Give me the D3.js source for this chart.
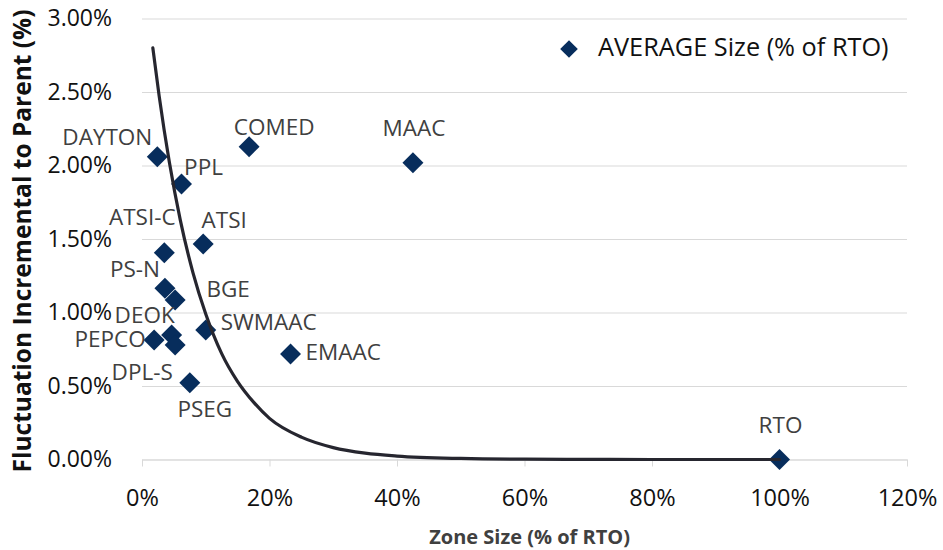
<!DOCTYPE html>
<html>
<head>
<meta charset="utf-8">
<script src="https://cdn.jsdelivr.net/npm/d3@7"></script>
<style>
  html, body { margin: 0; padding: 0; background: #ffffff; }
  svg { display: block; }
</style>
</head>
<body>
<svg id="chart" width="943" height="550"></svg>
<script>
// Zones: average size as a share of the RTO vs. fluctuation incremental to parent
const zones = ["DAYTON", "PPL", "COMED", "MAAC", "ATSI-C", "ATSI", "PS-N", "BGE",
               "SWMAAC", "DEOK", "PEPCO", "DPL-S", "EMAAC", "PSEG", "RTO"];
const zoneSize = [0.024, 0.062, 0.168, 0.425, 0.035, 0.096, 0.036, 0.052,
                  0.100, 0.0465, 0.019, 0.052, 0.233, 0.075, 1.00];
const fluctuation = [0.0206, 0.01874, 0.02128, 0.02019, 0.01407, 0.01466, 0.01165, 0.01085,
                     0.00881, 0.00847, 0.00813, 0.00779, 0.00718, 0.00522, 0.0];

// Trend curve through the zones (x = zone size, y = fluctuation)
const trendX = [0.017, 0.027, 0.043, 0.06, 0.08, 0.10, 0.125, 0.15, 0.175, 0.20,
                0.25, 0.30, 0.35, 0.40, 0.50, 0.60, 0.70, 0.80, 0.90, 1.00];
const trendY = [0.0280, 0.0247, 0.0202, 0.0163, 0.0127, 0.0099, 0.0072, 0.0053, 0.0039, 0.0028,
                0.00152, 0.00081, 0.00043, 0.00023, 0.00007, 0.00002, 0.00001, 0.0, 0.0, 0.0];

const xTicks = [0, 0.2, 0.4, 0.6, 0.8, 1.0, 1.2];
const yTicks = [0, 0.005, 0.01, 0.015, 0.02, 0.025, 0.03];

const legendLabel = "AVERAGE Size (% of RTO)";
const xTitle = "Zone Size (% of RTO)";
const yTitle = "Fluctuation Incremental to Parent (%)";

// Where each data label sits relative to its marker
const labelPlace = {
  "DAYTON": { anchor: "middle", dx: -50, dy: -12 },
  "PPL":    { anchor: "middle", dx: 22,  dy: -9 },
  "COMED":  { anchor: "middle", dx: 25,  dy: -12 },
  "MAAC":   { anchor: "middle", dx: 1,   dy: -27 },
  "ATSI-C": { anchor: "middle", dx: -22, dy: -28 },
  "ATSI":   { anchor: "middle", dx: 21,  dy: -16 },
  "PS-N":   { anchor: "middle", dx: -30, dy: -11 },
  "BGE":    { anchor: "middle", dx: 53,  dy: -3 },
  "SWMAAC": { anchor: "start",  dx: 15,  dy: 0 },
  "DEOK":   { anchor: "middle", dx: -27, dy: -12 },
  "PEPCO":  { anchor: "middle", dx: -44, dy: 7 },
  "DPL-S":  { anchor: "middle", dx: -33, dy: 35 },
  "EMAAC":  { anchor: "start",  dx: 15,  dy: 6 },
  "PSEG":   { anchor: "middle", dx: 15,  dy: 34 },
  "RTO":    { anchor: "middle", dx: 1,   dy: -27 }
};

const W = 943, H = 550;
const margin = { top: 18.5, right: 36, bottom: 90.5, left: 142 };
const innerW = W - margin.left - margin.right;
const innerH = H - margin.top - margin.bottom;

const svg = d3.select("#chart");
const g = svg.append("g").attr("transform", `translate(${margin.left},${margin.top})`);

const x = d3.scaleLinear().domain([0, 1.2]).range([0, innerW]);
const y = d3.scaleLinear().domain([0, 0.03]).range([innerH, 0]);

const navy = "#072d5c";
const gridColor = "#d9d9d9";
const font = "'Open Sans', 'DejaVu Sans', sans-serif";

// Horizontal gridlines
const grid = g.append("g")
  .call(d3.axisLeft(y).tickValues(yTicks).tickSize(-innerW).tickFormat(""));
grid.select(".domain").remove();
grid.selectAll(".tick line").attr("stroke", gridColor).attr("stroke-width", 1);

// Bottom axis line with small tick marks
const xLine = g.append("g")
  .attr("transform", `translate(0,${innerH})`)
  .call(d3.axisBottom(x).tickValues(xTicks).tickSize(7).tickSizeOuter(0).tickFormat(""));
xLine.select(".domain").attr("stroke", gridColor);
xLine.selectAll(".tick line").attr("stroke", gridColor);

// X tick labels
const xLabels = g.append("g")
  .attr("transform", `translate(0,${innerH})`)
  .call(d3.axisBottom(x).tickValues(xTicks).tickSize(0).tickFormat(d3.format(".0%")));
xLabels.select(".domain").remove();
xLabels.selectAll(".tick text")
  .attr("y", 46.5).attr("dy", 0)
  .attr("font-family", font).attr("font-size", 23.5).attr("fill", "#111111");

// Y tick labels
const yLabels = g.append("g")
  .call(d3.axisLeft(y).tickValues(yTicks).tickSize(0).tickPadding(30).tickFormat(d3.format(".2%")));
yLabels.select(".domain").remove();
yLabels.selectAll(".tick text")
  .attr("font-family", font).attr("font-size", 23).attr("fill", "#111111");

// Axis titles
svg.append("text")
  .attr("x", margin.left + x(0.608)).attr("y", 544)
  .attr("text-anchor", "middle")
  .attr("font-family", font).attr("font-weight", "bold").attr("font-size", 20)
  .attr("fill", "#404040")
  .text(xTitle);

svg.append("text")
  .attr("transform", `translate(31,${margin.top + innerH / 2 + 2}) rotate(-90)`)
  .attr("text-anchor", "middle")
  .attr("font-family", font).attr("font-weight", "bold").attr("font-size", 24.5)
  .attr("fill", "#111111")
  .text(yTitle);

// Markers
const points = zones.map((name, i) => ({ name, size: zoneSize[i], fluct: fluctuation[i] }));
const diamond = d3.symbol().type(d3.symbolSquare).size(220);

g.append("g").selectAll("path")
  .data(points)
  .join("path")
  .attr("d", diamond)
  .attr("transform", d => `translate(${x(d.size)},${y(d.fluct)}) rotate(45)`)
  .attr("fill", navy);

// Trend curve
const trend = trendX.map((v, i) => [v, trendY[i]]);
g.append("path")
  .datum(trend)
  .attr("fill", "none")
  .attr("stroke", "#26262f")
  .attr("stroke-width", 3.2)
  .attr("stroke-linecap", "round")
  .attr("d", d3.line().x(d => x(d[0])).y(d => y(d[1])).curve(d3.curveMonotoneX));

// Data labels
g.append("g").selectAll("text")
  .data(points)
  .join("text")
  .attr("x", d => x(d.size) + labelPlace[d.name].dx)
  .attr("y", d => y(d.fluct) + labelPlace[d.name].dy)
  .attr("text-anchor", d => labelPlace[d.name].anchor)
  .attr("font-family", font).attr("font-size", 22.5)
  .attr("fill", "#404040")
  .text(d => d.name);

// Legend
const legend = svg.append("g").attr("transform", "translate(569,49)");
legend.append("path")
  .attr("d", d3.symbol().type(d3.symbolSquare).size(155))
  .attr("transform", "rotate(45)")
  .attr("fill", navy);
legend.append("text")
  .attr("x", 29).attr("y", 7)
  .attr("font-family", font).attr("font-size", 25.3)
  .attr("fill", "#111111")
  .text(legendLabel);
</script>
</body>
</html>
